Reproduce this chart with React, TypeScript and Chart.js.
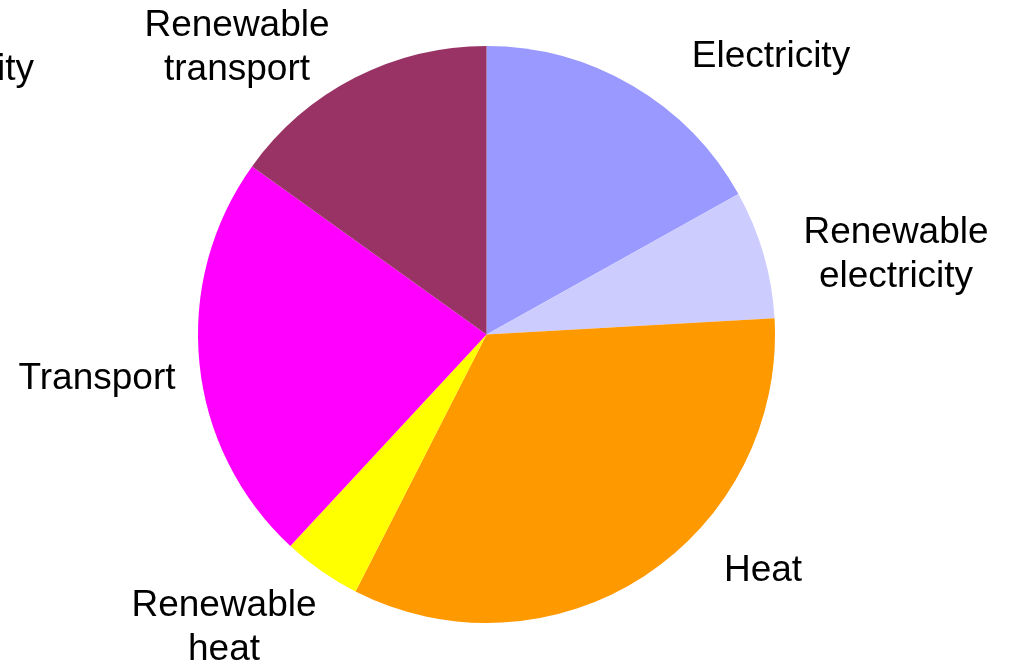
import React, { useEffect, useRef } from "react";
import { Chart, registerables } from "chart.js";

Chart.register(...registerables);

const categories = [
  "Electricity",
  "Renewable electricity",
  "Heat",
  "Renewable heat",
  "Transport",
  "Renewable transport",
];
const shares = [16.9, 7.2, 33.4, 4.4, 23.0, 15.1];
const colors = ["#9999FF", "#CCCCFF", "#FF9900", "#FFFF00", "#FF00FF", "#993366"];

// label lines per category, and their placement (center x, first baseline y) in canvas px
const labelLines = [
  ["Electricity"],
  ["Renewable", "electricity"],
  ["Heat"],
  ["Renewable", "heat"],
  ["Transport"],
  ["Renewable", "transport"],
];
const labelPlacement = [
  [771, 67],
  [896, 243],
  [763, 581],
  [224, 616],
  [97, 389],
  [237, 36],
];
const strayText = "ity";

const FONT = '37px "Liberation Sans", Arial, sans-serif';
const LINE_H = 44;

const labelPlugin = {
  id: "outerLabels",
  afterDraw(chart: any) {
    const ctx = chart.ctx;
    ctx.save();
    ctx.font = FONT;
    ctx.fillStyle = "#000";
    ctx.textBaseline = "alphabetic";
    ctx.textAlign = "center";
    labelLines.forEach((lines, i) => {
      const [x, y] = labelPlacement[i];
      lines.forEach((t, j) => ctx.fillText(t, x, y + j * LINE_H));
    });
    ctx.textAlign = "right";
    ctx.fillText(strayText, 34, 80);
    ctx.restore();
  },
};

export default function App() {
  const ref = useRef<HTMLCanvasElement>(null);
  useEffect(() => {
    const chart = new Chart(ref.current!, {
      type: "pie",
      data: {
        labels: categories,
        datasets: [
          {
            data: shares,
            backgroundColor: colors,
            borderWidth: 0,
            hoverOffset: 0,
            offset: 0,
          },
        ],
      },
      options: {
        animation: false,
        responsive: false,
        layout: { padding: { left: 198, right: 235, top: 46, bottom: 41 } },
        plugins: { legend: { display: false }, tooltip: { enabled: false } },
      },
      plugins: [labelPlugin],
    });
    return () => chart.destroy();
  }, []);
  return (
    <div style={{ position: "fixed", left: 0, top: 0, width: 1010, height: 664, background: "#fff" }}>
      <canvas ref={ref} width={1010} height={664} style={{ display: "block" }} />
    </div>
  );
}
